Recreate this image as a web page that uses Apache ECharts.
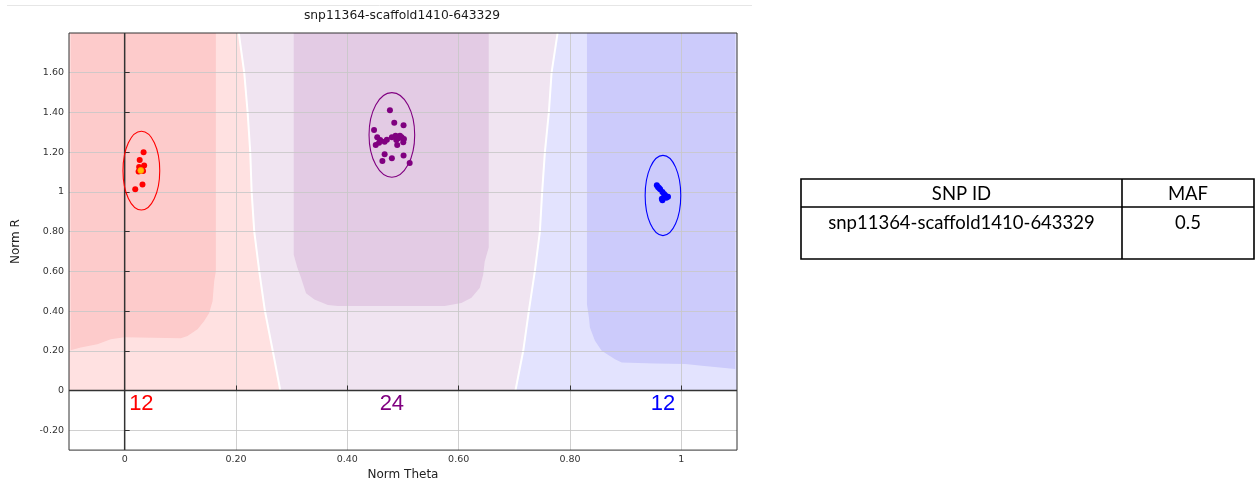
<!DOCTYPE html>
<html><head><meta charset="utf-8">
<script src="https://cdn.jsdelivr.net/npm/echarts@6/dist/echarts.min.js"></script>
<style>html,body{margin:0;padding:0;background:#fff}#c{width:1255px;height:486px}</style>
</head><body><div id="c"></div>
<script>
const chartTitle = 'snp11364-scaffold1410-643329';
const xAxisName = 'Norm Theta';
const yAxisName = 'Norm R';
const xTickValues = [0, 0.2, 0.4, 0.6, 0.8, 1];
const xTickLabels = ['0', '0.20', '0.40', '0.60', '0.80', '1'];
const yTickValues = [-0.2, 0, 0.2, 0.4, 0.6, 0.8, 1, 1.2, 1.4, 1.6];
const yTickLabels = ['-0.20', '0', '0.20', '0.40', '0.60', '0.80', '1', '1.20', '1.40', '1.60'];

const clusterCounts = [12, 24, 12];
const clusterCenterX = [0.030, 0.480, 0.967];
const clusterCenterY = [1.107, 1.287, 0.982];
const clusterHalfWidth = [0.033, 0.041, 0.032];
const clusterHalfHeight = [0.198, 0.213, 0.202];

const pointsAA = [[0.034,1.200],[0.027,1.160],[0.035,1.133],[0.029,1.108],[0.025,1.103],[0.032,1.037],
  [0.019,1.013],[0.031,1.115],[0.028,1.120],[0.033,1.105],[0.030,1.110],[0.026,1.125]];
const pointsAB = [[0.4765,1.411],[0.4843,1.348],[0.501,1.336],[0.448,1.311],[0.4537,1.275],[0.459,1.261],
  [0.467,1.253],[0.480,1.275],[0.4866,1.283],[0.4945,1.283],[0.5017,1.266],[0.488,1.261],
  [0.451,1.236],[0.4896,1.236],[0.467,1.190],[0.480,1.170],[0.501,1.183],[0.463,1.155],
  [0.512,1.146],[0.4975,1.275],[0.471,1.262],[0.457,1.247],[0.492,1.270],[0.5005,1.250]];
const pointsBB = [[0.956,1.033],[0.962,1.013],[0.966,1.000],[0.971,0.983],[0.976,0.975],[0.966,0.958],
  [0.969,0.990],[0.960,1.020],[0.973,0.970],[0.965,0.965],[0.958,1.025],[0.970,0.978]];
const selectedPoint = [[0.029, 1.108]];

const boundaryLeft = [[0.2796,0],[0.266,0.2],[0.252,0.4],[0.2418,0.6],[0.2328,0.8],[0.2281,1.0],
  [0.2256,1.2],[0.2209,1.4],[0.2148,1.6],[0.205,1.8]];
const boundaryRight = [[0.702,0],[0.716,0.2],[0.726,0.4],[0.7368,0.6],[0.7459,0.8],[0.750,1.0],
  [0.7549,1.2],[0.762,1.4],[0.7669,1.6],[0.7777,1.8]];
const coreAA = [[-0.097,1.8],[-0.097,0.203],[-0.079,0.2165],[-0.049,0.233],[-0.025,0.258],[0,0.268],
  [0.1008,0.263],[0.1129,0.275],[0.1309,0.308],[0.1428,0.35],[0.1518,0.39],[0.1579,0.45],
  [0.1608,0.55],[0.1638,0.6],[0.1638,1.8]];
const coreAB = [[0.3037,1.8],[0.3037,0.683],[0.310,0.62],[0.3165,0.57],[0.3258,0.49],[0.3408,0.458],
  [0.365,0.43],[0.383,0.425],[0.5748,0.425],[0.6049,0.44],[0.623,0.467],[0.638,0.517],
  [0.644,0.583],[0.6468,0.65],[0.654,0.72],[0.654,1.8]];
const coreBB = [[0.8305,1.8],[0.8305,0.433],[0.834,0.367],[0.8358,0.317],[0.8448,0.25],[0.8569,0.2],
  [0.8808,0.158],[0.8929,0.1415],[0.9528,0.1365],[1.0068,0.133],[1.0369,0.125],[1.0968,0.108],[1.0968,1.8]];

const tableHeader = ['SNP ID', 'MAF'];
const tableRow = ['snp11364-scaffold1410-643329', '0.5'];

const X_MIN = -0.1, X_MAX = 1.1, Y_MIN = -0.3, Y_MAX = 1.8;
const zoneAA = [[X_MIN, 0]].concat(boundaryLeft, [[X_MIN, Y_MAX]]);
const zoneAB = boundaryLeft.concat(boundaryRight.slice().reverse());
const zoneBB = boundaryRight.concat([[X_MAX, Y_MAX], [X_MAX, 0]]);

const clusterColors = ['#ff0000', '#800080', '#0000ff'];

function labelFor(v, vals, labels) {
  for (let i = 0; i < vals.length; i++) if (Math.abs(vals[i] - v) < 1e-9) return labels[i];
  return '';
}
function polygonSeries(pts, color, z) {
  return {
    type: 'custom', coordinateSystem: 'cartesian2d', silent: true, clip: true, z: z,
    data: [pts[0]],
    renderItem: (params, api) => ({
      type: 'polygon',
      shape: { points: pts.map(p => api.coord(p)) },
      style: { fill: color }
    })
  };
}
function polylineSeries(pts, color, w, z) {
  return {
    type: 'custom', coordinateSystem: 'cartesian2d', silent: true, clip: true, z: z,
    data: [pts[0]],
    renderItem: (params, api) => ({
      type: 'polyline',
      shape: { points: pts.map(p => api.coord(p)) },
      style: { stroke: color, lineWidth: w, fill: null }
    })
  };
}
function scatterSeries(pts, color) {
  return { type: 'scatter', data: pts, symbol: 'circle', symbolSize: 6, z: 5,
    itemStyle: { color: color, opacity: 1 }, silent: true };
}

const ellipseData = clusterCenterX.map((x, i) => [x, clusterCenterY[i], clusterHalfWidth[i], clusterHalfHeight[i], i]);
const countData = clusterCenterX.map((x, i) => [x, clusterCounts[i], i]);
const COUNT_Y = -0.07;

const chart = echarts.init(document.getElementById('c'), null, { renderer: 'canvas' });
const fontAxis = 'DejaVu Sans';
const tL = 801, tR = 1254, tT = 179, tB = 259, tMid = 207, tCol = 1122;
const tableFont = '18.5px Lato';
function txt(text, x, y, font, fill) {
  return { type: 'text', x: x, y: y, silent: true,
    style: { text: text, font: font, fill: fill, align: 'center', verticalAlign: 'middle',
      textAlign: 'center', textVerticalAlign: 'middle' } };
}

chart.setOption({
  animation: false,
  backgroundColor: '#ffffff',
  grid: { left: 69, top: 33, width: 668, height: 420, show: true, borderColor: '#333', borderWidth: 1, z: 10, containLabel: false },
  xAxis: {
    type: 'value', min: X_MIN, max: X_MAX, z: 3,
    name: xAxisName, nameLocation: 'middle', nameGap: 18,
    nameTextStyle: { fontFamily: fontAxis, fontSize: 12, color: '#222' },
    axisLine: { show: false },
    axisTick: { show: true, inside: true, length: 5, customValues: xTickValues, lineStyle: { color: '#333' } },
    axisLabel: { customValues: xTickValues, formatter: v => labelFor(v, xTickValues, xTickLabels),
      fontFamily: fontAxis, fontSize: 9.5, color: '#333', margin: 4 },
    splitLine: { show: true, lineStyle: { color: 'rgba(200,200,200,0.85)', width: 1 } }
  },
  yAxis: {
    type: 'value', min: Y_MIN, max: Y_MAX, z: 3,
    name: yAxisName, nameLocation: 'middle', nameGap: 47, nameRotate: 90,
    nameTextStyle: { fontFamily: fontAxis, fontSize: 12, color: '#222' },
    axisLine: { show: false },
    axisTick: { show: true, inside: true, length: 5, customValues: yTickValues, lineStyle: { color: '#333' } },
    axisLabel: { customValues: yTickValues, formatter: v => labelFor(v, yTickValues, yTickLabels),
      fontFamily: fontAxis, fontSize: 9.5, color: '#333', margin: 5 },
    splitLine: { show: true, lineStyle: { color: 'rgba(200,200,200,0.85)', width: 1 } }
  },
  series: [
    polygonSeries(zoneAA, '#ffe1e1', 0),
    polygonSeries(zoneAB, '#f0e4f1', 0),
    polygonSeries(zoneBB, '#e3e3fe', 0),
    polygonSeries(coreAA, '#fdcbcb', 1),
    polygonSeries(coreAB, '#e3cbe4', 1),
    polygonSeries(coreBB, '#cccbfb', 1),
    polylineSeries(boundaryLeft, '#ffffff', 2, 1),
    polylineSeries(boundaryRight, '#ffffff', 2, 1),
    { type: 'line', data: [[0, Y_MIN], [0, Y_MAX]], symbol: 'none', silent: true, z: 4,
      lineStyle: { color: '#333', width: 1.5 } },
    { type: 'line', data: [[X_MIN, 0], [X_MAX, 0]], symbol: 'none', silent: true, z: 4,
      lineStyle: { color: '#333', width: 1.5 } },
    {
      type: 'custom', coordinateSystem: 'cartesian2d', silent: true, z: 5, data: ellipseData,
      encode: { x: 0, y: 1 },
      renderItem: (params, api) => {
        const c = api.coord([api.value(0), api.value(1)]);
        const s = api.size([api.value(2), api.value(3)]);
        return { type: 'ellipse', shape: { cx: c[0], cy: c[1], rx: s[0], ry: s[1] },
          style: { fill: null, stroke: clusterColors[api.value(4)], lineWidth: 1.1 } };
      }
    },
    scatterSeries(pointsAA, clusterColors[0]),
    scatterSeries(pointsAB, clusterColors[1]),
    scatterSeries(pointsBB, clusterColors[2]),
    { type: 'scatter', data: selectedPoint, symbol: 'circle', symbolSize: 6, z: 6, silent: true,
      itemStyle: { color: '#ffee00', borderColor: '#ff9900', borderWidth: 1 } },
    {
      type: 'custom', coordinateSystem: 'cartesian2d', silent: true, z: 6, data: countData,
      encode: { x: 0 },
      renderItem: (params, api) => {
        const p = api.coord([api.value(0), COUNT_Y]);
        return { type: 'text', x: p[0], y: p[1],
          style: { text: String(api.value(1)), fill: clusterColors[api.value(2)],
            font: '22px "Liberation Sans"', align: 'center', verticalAlign: 'middle',
            textAlign: 'center', textVerticalAlign: 'middle' } };
      }
    }
  ],
  graphic: [
    { type: 'line', shape: { x1: 7, y1: 5.5, x2: 752, y2: 5.5 }, style: { stroke: '#e6e6e6', lineWidth: 1 }, silent: true },
    txt(chartTitle, 402, 15.5, '12.3px "DejaVu Sans"', '#1a1a1a'),
    { type: 'rect', shape: { x: tL, y: tT, width: tR - tL, height: tB - tT }, style: { fill: null, stroke: '#000', lineWidth: 1.6 }, silent: true },
    { type: 'line', shape: { x1: tL, y1: tMid, x2: tR, y2: tMid }, style: { stroke: '#000', lineWidth: 1.6 }, silent: true },
    { type: 'line', shape: { x1: tCol, y1: tT, x2: tCol, y2: tB }, style: { stroke: '#000', lineWidth: 1.6 }, silent: true },
    txt(tableHeader[0], (tL + tCol) / 2, 194, tableFont, '#000'),
    txt(tableHeader[1], (tCol + tR) / 2, 194, tableFont, '#000'),
    txt(tableRow[0], (tL + tCol) / 2, 223, tableFont, '#000'),
    txt(tableRow[1], (tCol + tR) / 2, 223, tableFont, '#000')
  ]
});
</script></body></html>
